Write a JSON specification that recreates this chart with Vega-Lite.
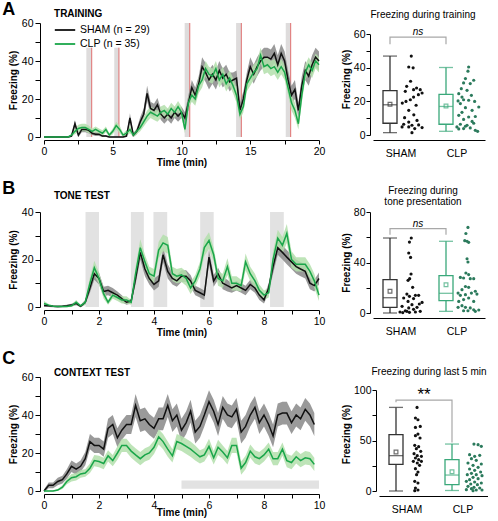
{
"$schema":"https://vega.github.io/schema/vega-lite/v6.json",
"padding":{"left":2,"top":1,"right":0,"bottom":0},
"spacing":12,
"resolve":{"scale":{"color":"independent","stroke":"independent","fill":"independent"}},
"config":{
 "font":"Liberation Sans",
 "view":{"stroke":null},
 "axis":{"grid":false,"domainColor":"#000","tickColor":"#000","labelColor":"#000","titleColor":"#000","labelFontSize":10.5,"titleFontSize":10,"titleFontWeight":"bold","domainWidth":1,"tickWidth":1,"labelOverlap":false},
 "title":{"color":"#000"},
 "legend":{"labelColor":"#000"}
},
"datasets":{
 "tA":[{"t0":3.08,"t1":3.47,"lo":0,"hi":47},{"t0":5.11,"t1":5.45,"lo":0,"hi":47},{"t0":10.23,"t1":10.6,"lo":0,"hi":60},{"t0":13.97,"t1":14.35,"lo":0,"hi":60},{"t0":17.58,"t1":17.94,"lo":0,"hi":60}],
 "tB":[{"t0":1.51,"t1":2.0,"lo":0,"hi":40},{"t0":3.16,"t1":3.63,"lo":0,"hi":40},{"t0":3.98,"t1":4.48,"lo":0,"hi":40},{"t0":5.68,"t1":6.17,"lo":0,"hi":40},{"t0":8.22,"t1":8.72,"lo":0,"hi":40}],
 "tC":[{"t0":5,"t1":10,"lo":1.2,"hi":5.5}],
 "lA":[
{"g":"SHAM","t":0,"m":0,"e":0.3},{"g":"SHAM","t":0.25,"m":0,"e":0.3},{"g":"SHAM","t":0.5,"m":0,"e":0.3},{"g":"SHAM","t":0.75,"m":0,"e":0.3},{"g":"SHAM","t":1,"m":0,"e":0.3},{"g":"SHAM","t":1.25,"m":0,"e":0.3},{"g":"SHAM","t":1.5,"m":0,"e":0.3},{"g":"SHAM","t":1.75,"m":0,"e":0.3},{"g":"SHAM","t":2,"m":0.5,"e":0.5},{"g":"SHAM","t":2.25,"m":7,"e":2},{"g":"SHAM","t":2.5,"m":1,"e":1},{"g":"SHAM","t":2.75,"m":4,"e":1.5},{"g":"SHAM","t":3,"m":4,"e":1.5},{"g":"SHAM","t":3.25,"m":3.5,"e":1.5},{"g":"SHAM","t":3.5,"m":2,"e":1},{"g":"SHAM","t":3.75,"m":1.5,"e":1},{"g":"SHAM","t":4,"m":1.5,"e":1},{"g":"SHAM","t":4.25,"m":0.5,"e":0.5},{"g":"SHAM","t":4.5,"m":0.5,"e":0.5},{"g":"SHAM","t":4.75,"m":0,"e":0.3},{"g":"SHAM","t":5,"m":0,"e":0.3},{"g":"SHAM","t":5.25,"m":0,"e":0.3},{"g":"SHAM","t":5.5,"m":0,"e":0.3},{"g":"SHAM","t":5.75,"m":0,"e":0.3},{"g":"SHAM","t":6,"m":0.5,"e":0.5},{"g":"SHAM","t":6.25,"m":10,"e":2.5},{"g":"SHAM","t":6.5,"m":1,"e":1},{"g":"SHAM","t":6.75,"m":3,"e":1.5},{"g":"SHAM","t":7,"m":8,"e":2.5},{"g":"SHAM","t":7.25,"m":12,"e":3},{"g":"SHAM","t":7.5,"m":23,"e":4},{"g":"SHAM","t":7.75,"m":15,"e":3.5},{"g":"SHAM","t":8,"m":14,"e":3.5},{"g":"SHAM","t":8.25,"m":17,"e":3.5},{"g":"SHAM","t":8.5,"m":12,"e":3},{"g":"SHAM","t":8.75,"m":10,"e":3},{"g":"SHAM","t":9,"m":12,"e":3},{"g":"SHAM","t":9.25,"m":10,"e":3},{"g":"SHAM","t":9.5,"m":13,"e":3},{"g":"SHAM","t":9.75,"m":11,"e":3},{"g":"SHAM","t":10,"m":13,"e":3},{"g":"SHAM","t":10.25,"m":10,"e":3},{"g":"SHAM","t":10.5,"m":18,"e":4},{"g":"SHAM","t":10.75,"m":26,"e":4},{"g":"SHAM","t":11,"m":22,"e":4},{"g":"SHAM","t":11.25,"m":28,"e":4},{"g":"SHAM","t":11.5,"m":37,"e":5},{"g":"SHAM","t":11.75,"m":34,"e":5},{"g":"SHAM","t":12,"m":30,"e":5},{"g":"SHAM","t":12.25,"m":33,"e":5},{"g":"SHAM","t":12.5,"m":30,"e":5},{"g":"SHAM","t":12.75,"m":35,"e":5},{"g":"SHAM","t":13,"m":31,"e":5},{"g":"SHAM","t":13.25,"m":33,"e":5},{"g":"SHAM","t":13.5,"m":29,"e":5},{"g":"SHAM","t":13.75,"m":30,"e":4},{"g":"SHAM","t":14,"m":31,"e":4},{"g":"SHAM","t":14.25,"m":14,"e":4},{"g":"SHAM","t":14.5,"m":20,"e":4},{"g":"SHAM","t":14.75,"m":30,"e":4},{"g":"SHAM","t":15,"m":37,"e":5},{"g":"SHAM","t":15.25,"m":33,"e":5},{"g":"SHAM","t":15.5,"m":37,"e":5},{"g":"SHAM","t":15.75,"m":40,"e":5},{"g":"SHAM","t":16,"m":42,"e":5},{"g":"SHAM","t":16.25,"m":42,"e":5},{"g":"SHAM","t":16.5,"m":41,"e":5},{"g":"SHAM","t":16.75,"m":44,"e":5},{"g":"SHAM","t":17,"m":38,"e":5},{"g":"SHAM","t":17.25,"m":44,"e":5},{"g":"SHAM","t":17.5,"m":40,"e":5},{"g":"SHAM","t":17.75,"m":30,"e":5},{"g":"SHAM","t":18,"m":22,"e":5},{"g":"SHAM","t":18.25,"m":25,"e":5},{"g":"SHAM","t":18.5,"m":14,"e":4},{"g":"SHAM","t":18.75,"m":27,"e":5},{"g":"SHAM","t":19,"m":35,"e":5},{"g":"SHAM","t":19.25,"m":32,"e":5},{"g":"SHAM","t":19.5,"m":38,"e":5},{"g":"SHAM","t":19.75,"m":42,"e":5},{"g":"SHAM","t":20,"m":40,"e":5},
{"g":"CLP","t":0,"m":0,"e":0.3},{"g":"CLP","t":0.25,"m":0,"e":0.3},{"g":"CLP","t":0.5,"m":0,"e":0.3},{"g":"CLP","t":0.75,"m":0,"e":0.3},{"g":"CLP","t":1,"m":0,"e":0.3},{"g":"CLP","t":1.25,"m":0,"e":0.3},{"g":"CLP","t":1.5,"m":0,"e":0.3},{"g":"CLP","t":1.75,"m":0,"e":0.3},{"g":"CLP","t":2,"m":1,"e":0.8},{"g":"CLP","t":2.25,"m":3,"e":1.5},{"g":"CLP","t":2.5,"m":4.5,"e":2},{"g":"CLP","t":2.75,"m":5,"e":2},{"g":"CLP","t":3,"m":5,"e":2},{"g":"CLP","t":3.25,"m":4,"e":2},{"g":"CLP","t":3.5,"m":3,"e":1.5},{"g":"CLP","t":3.75,"m":4,"e":1.5},{"g":"CLP","t":4,"m":3,"e":1.5},{"g":"CLP","t":4.25,"m":2,"e":1.5},{"g":"CLP","t":4.5,"m":4,"e":1.5},{"g":"CLP","t":4.75,"m":1,"e":1},{"g":"CLP","t":5,"m":3,"e":1.5},{"g":"CLP","t":5.25,"m":6,"e":2},{"g":"CLP","t":5.5,"m":4,"e":2},{"g":"CLP","t":5.75,"m":1,"e":1},{"g":"CLP","t":6,"m":2,"e":1.5},{"g":"CLP","t":6.25,"m":4,"e":2},{"g":"CLP","t":6.5,"m":1,"e":1},{"g":"CLP","t":6.75,"m":3,"e":1.5},{"g":"CLP","t":7,"m":5,"e":2},{"g":"CLP","t":7.25,"m":8,"e":2.5},{"g":"CLP","t":7.5,"m":11,"e":3},{"g":"CLP","t":7.75,"m":13,"e":3},{"g":"CLP","t":8,"m":12,"e":3},{"g":"CLP","t":8.25,"m":11,"e":3},{"g":"CLP","t":8.5,"m":13,"e":3},{"g":"CLP","t":8.75,"m":14,"e":3},{"g":"CLP","t":9,"m":12,"e":3},{"g":"CLP","t":9.25,"m":15,"e":3},{"g":"CLP","t":9.5,"m":13,"e":3},{"g":"CLP","t":9.75,"m":16,"e":3},{"g":"CLP","t":10,"m":13,"e":3},{"g":"CLP","t":10.25,"m":4,"e":2},{"g":"CLP","t":10.5,"m":18,"e":3},{"g":"CLP","t":10.75,"m":22,"e":3.5},{"g":"CLP","t":11,"m":20,"e":3.5},{"g":"CLP","t":11.25,"m":27,"e":4},{"g":"CLP","t":11.5,"m":30,"e":4},{"g":"CLP","t":11.75,"m":36,"e":4},{"g":"CLP","t":12,"m":33,"e":4},{"g":"CLP","t":12.25,"m":32,"e":4},{"g":"CLP","t":12.5,"m":36,"e":4},{"g":"CLP","t":12.75,"m":30,"e":4},{"g":"CLP","t":13,"m":33,"e":4},{"g":"CLP","t":13.25,"m":28,"e":4},{"g":"CLP","t":13.5,"m":31,"e":4},{"g":"CLP","t":13.75,"m":27,"e":4},{"g":"CLP","t":14,"m":22,"e":4},{"g":"CLP","t":14.25,"m":12,"e":3},{"g":"CLP","t":14.5,"m":16,"e":3},{"g":"CLP","t":14.75,"m":28,"e":4},{"g":"CLP","t":15,"m":31,"e":4},{"g":"CLP","t":15.25,"m":34,"e":4},{"g":"CLP","t":15.5,"m":36,"e":4},{"g":"CLP","t":15.75,"m":43,"e":4},{"g":"CLP","t":16,"m":37,"e":4},{"g":"CLP","t":16.25,"m":38,"e":4},{"g":"CLP","t":16.5,"m":36,"e":4},{"g":"CLP","t":16.75,"m":37,"e":4},{"g":"CLP","t":17,"m":34,"e":4},{"g":"CLP","t":17.25,"m":37,"e":4},{"g":"CLP","t":17.5,"m":34,"e":4},{"g":"CLP","t":17.75,"m":26,"e":4},{"g":"CLP","t":18,"m":18,"e":4},{"g":"CLP","t":18.25,"m":14,"e":4},{"g":"CLP","t":18.5,"m":7,"e":3},{"g":"CLP","t":18.75,"m":22,"e":4},{"g":"CLP","t":19,"m":34,"e":4},{"g":"CLP","t":19.25,"m":38,"e":4},{"g":"CLP","t":19.5,"m":35,"e":4},{"g":"CLP","t":19.75,"m":40,"e":4},{"g":"CLP","t":20,"m":38,"e":4}
 ],
 "lB":[
{"g":"SHAM","t":0,"m":0.6,"e":0.5},{"g":"SHAM","t":0.17,"m":0.5,"e":0.5},{"g":"SHAM","t":0.33,"m":0.3,"e":0.4},{"g":"SHAM","t":0.5,"m":0.2,"e":0.4},{"g":"SHAM","t":0.67,"m":0.3,"e":0.4},{"g":"SHAM","t":0.83,"m":0.5,"e":0.5},{"g":"SHAM","t":1,"m":0.8,"e":0.6},{"g":"SHAM","t":1.17,"m":1.5,"e":0.8},{"g":"SHAM","t":1.33,"m":0.3,"e":0.4},{"g":"SHAM","t":1.5,"m":2,"e":1},{"g":"SHAM","t":1.67,"m":8,"e":2},{"g":"SHAM","t":1.83,"m":14,"e":2.5},{"g":"SHAM","t":2,"m":12,"e":2.5},{"g":"SHAM","t":2.17,"m":6.5,"e":2},{"g":"SHAM","t":2.33,"m":7,"e":2},{"g":"SHAM","t":2.5,"m":6,"e":2},{"g":"SHAM","t":2.67,"m":5,"e":1.5},{"g":"SHAM","t":2.83,"m":3.5,"e":1.5},{"g":"SHAM","t":3,"m":2,"e":1},{"g":"SHAM","t":3.17,"m":2.5,"e":1},{"g":"SHAM","t":3.33,"m":12,"e":2.5},{"g":"SHAM","t":3.5,"m":23,"e":3},{"g":"SHAM","t":3.67,"m":16,"e":3},{"g":"SHAM","t":3.83,"m":12,"e":2.5},{"g":"SHAM","t":4,"m":9.5,"e":2.5},{"g":"SHAM","t":4.17,"m":11,"e":2.5},{"g":"SHAM","t":4.33,"m":22,"e":3},{"g":"SHAM","t":4.5,"m":15,"e":3},{"g":"SHAM","t":4.67,"m":12,"e":2.5},{"g":"SHAM","t":4.83,"m":11,"e":2.5},{"g":"SHAM","t":5,"m":13,"e":2.5},{"g":"SHAM","t":5.17,"m":13,"e":2.5},{"g":"SHAM","t":5.33,"m":11,"e":2.5},{"g":"SHAM","t":5.5,"m":7,"e":2},{"g":"SHAM","t":5.67,"m":6,"e":2},{"g":"SHAM","t":5.83,"m":5,"e":2},{"g":"SHAM","t":6,"m":21,"e":3},{"g":"SHAM","t":6.17,"m":11,"e":2.5},{"g":"SHAM","t":6.33,"m":14,"e":2.5},{"g":"SHAM","t":6.5,"m":10,"e":2.5},{"g":"SHAM","t":6.67,"m":9,"e":2.5},{"g":"SHAM","t":6.83,"m":8,"e":2},{"g":"SHAM","t":7,"m":9,"e":2},{"g":"SHAM","t":7.17,"m":8,"e":2},{"g":"SHAM","t":7.33,"m":7,"e":2},{"g":"SHAM","t":7.5,"m":9.5,"e":2},{"g":"SHAM","t":7.67,"m":8,"e":2},{"g":"SHAM","t":7.83,"m":5,"e":2},{"g":"SHAM","t":8,"m":3,"e":1.5},{"g":"SHAM","t":8.17,"m":8,"e":2},{"g":"SHAM","t":8.33,"m":17,"e":3},{"g":"SHAM","t":8.5,"m":25,"e":3},{"g":"SHAM","t":8.67,"m":23,"e":3},{"g":"SHAM","t":8.83,"m":21,"e":3},{"g":"SHAM","t":9,"m":19,"e":3},{"g":"SHAM","t":9.17,"m":17,"e":3},{"g":"SHAM","t":9.33,"m":16,"e":3},{"g":"SHAM","t":9.5,"m":15,"e":3},{"g":"SHAM","t":9.67,"m":10,"e":2.5},{"g":"SHAM","t":9.83,"m":9,"e":2.5},{"g":"SHAM","t":10,"m":12,"e":2.5},
{"g":"CLP","t":0,"m":1.5,"e":1},{"g":"CLP","t":0.17,"m":0.8,"e":0.5},{"g":"CLP","t":0.33,"m":0.3,"e":0.3},{"g":"CLP","t":0.5,"m":0.2,"e":0.3},{"g":"CLP","t":0.67,"m":0.2,"e":0.3},{"g":"CLP","t":0.83,"m":0.2,"e":0.3},{"g":"CLP","t":1,"m":0.5,"e":0.5},{"g":"CLP","t":1.17,"m":2,"e":1},{"g":"CLP","t":1.33,"m":0.5,"e":0.5},{"g":"CLP","t":1.5,"m":2,"e":1},{"g":"CLP","t":1.67,"m":10,"e":2.5},{"g":"CLP","t":1.83,"m":16.5,"e":3},{"g":"CLP","t":2,"m":12,"e":2.5},{"g":"CLP","t":2.17,"m":5.5,"e":2},{"g":"CLP","t":2.33,"m":2,"e":1},{"g":"CLP","t":2.5,"m":5,"e":1.5},{"g":"CLP","t":2.67,"m":4,"e":1.5},{"g":"CLP","t":2.83,"m":3,"e":1.5},{"g":"CLP","t":3,"m":3,"e":1.5},{"g":"CLP","t":3.17,"m":2,"e":1},{"g":"CLP","t":3.33,"m":14,"e":3},{"g":"CLP","t":3.5,"m":25,"e":3.5},{"g":"CLP","t":3.67,"m":19,"e":3},{"g":"CLP","t":3.83,"m":14,"e":3},{"g":"CLP","t":4,"m":13,"e":3},{"g":"CLP","t":4.17,"m":24,"e":3.5},{"g":"CLP","t":4.33,"m":27,"e":3.5},{"g":"CLP","t":4.5,"m":26,"e":3.5},{"g":"CLP","t":4.67,"m":14,"e":3},{"g":"CLP","t":4.83,"m":13,"e":3},{"g":"CLP","t":5,"m":13.5,"e":3},{"g":"CLP","t":5.17,"m":12,"e":3},{"g":"CLP","t":5.33,"m":8,"e":2.5},{"g":"CLP","t":5.5,"m":11,"e":2.5},{"g":"CLP","t":5.67,"m":16,"e":3},{"g":"CLP","t":5.83,"m":25,"e":3.5},{"g":"CLP","t":6,"m":28,"e":3.5},{"g":"CLP","t":6.17,"m":22,"e":3},{"g":"CLP","t":6.33,"m":12,"e":3},{"g":"CLP","t":6.5,"m":11,"e":3},{"g":"CLP","t":6.67,"m":17,"e":3.5},{"g":"CLP","t":6.83,"m":10,"e":3},{"g":"CLP","t":7,"m":10,"e":3},{"g":"CLP","t":7.17,"m":9,"e":2.5},{"g":"CLP","t":7.33,"m":19,"e":3.5},{"g":"CLP","t":7.5,"m":14,"e":3},{"g":"CLP","t":7.67,"m":11,"e":3},{"g":"CLP","t":7.83,"m":7,"e":2.5},{"g":"CLP","t":8,"m":5,"e":2},{"g":"CLP","t":8.17,"m":6,"e":2},{"g":"CLP","t":8.33,"m":20,"e":3.5},{"g":"CLP","t":8.5,"m":29,"e":3.5},{"g":"CLP","t":8.67,"m":26,"e":3.5},{"g":"CLP","t":8.83,"m":31,"e":4},{"g":"CLP","t":9,"m":20,"e":3.5},{"g":"CLP","t":9.17,"m":18,"e":3},{"g":"CLP","t":9.33,"m":18,"e":3},{"g":"CLP","t":9.5,"m":18,"e":3},{"g":"CLP","t":9.67,"m":15,"e":3},{"g":"CLP","t":9.83,"m":11,"e":3},{"g":"CLP","t":10,"m":5,"e":2.5}
 ],
 "lC":[
{"g":"SHAM","t":0,"m":0,"e":0.8},{"g":"SHAM","t":0.17,"m":3,"e":1.5},{"g":"SHAM","t":0.33,"m":3,"e":1.5},{"g":"SHAM","t":0.5,"m":5,"e":2},{"g":"SHAM","t":0.67,"m":6,"e":2},{"g":"SHAM","t":0.83,"m":9,"e":2.5},{"g":"SHAM","t":1,"m":13,"e":3},{"g":"SHAM","t":1.17,"m":11.5,"e":3},{"g":"SHAM","t":1.33,"m":13,"e":3},{"g":"SHAM","t":1.5,"m":17,"e":3.5},{"g":"SHAM","t":1.67,"m":26,"e":4},{"g":"SHAM","t":1.83,"m":24,"e":4},{"g":"SHAM","t":2,"m":24,"e":4},{"g":"SHAM","t":2.17,"m":22,"e":4},{"g":"SHAM","t":2.33,"m":33,"e":5},{"g":"SHAM","t":2.5,"m":35,"e":5},{"g":"SHAM","t":2.67,"m":28,"e":5},{"g":"SHAM","t":2.83,"m":32,"e":5},{"g":"SHAM","t":3,"m":35,"e":5},{"g":"SHAM","t":3.17,"m":35,"e":5},{"g":"SHAM","t":3.33,"m":45,"e":6},{"g":"SHAM","t":3.5,"m":37,"e":6},{"g":"SHAM","t":3.67,"m":38,"e":6},{"g":"SHAM","t":3.83,"m":35,"e":5.5},{"g":"SHAM","t":4,"m":33,"e":5.5},{"g":"SHAM","t":4.17,"m":38,"e":6},{"g":"SHAM","t":4.33,"m":38,"e":6},{"g":"SHAM","t":4.5,"m":45,"e":6},{"g":"SHAM","t":4.67,"m":37,"e":6},{"g":"SHAM","t":4.83,"m":40,"e":6},{"g":"SHAM","t":5,"m":32,"e":6},{"g":"SHAM","t":5.17,"m":36,"e":6},{"g":"SHAM","t":5.33,"m":42,"e":6},{"g":"SHAM","t":5.5,"m":31,"e":6},{"g":"SHAM","t":5.67,"m":34,"e":6},{"g":"SHAM","t":5.83,"m":40,"e":6},{"g":"SHAM","t":6,"m":47,"e":6},{"g":"SHAM","t":6.17,"m":42,"e":6},{"g":"SHAM","t":6.33,"m":35,"e":6},{"g":"SHAM","t":6.5,"m":44,"e":6},{"g":"SHAM","t":6.67,"m":40,"e":6},{"g":"SHAM","t":6.83,"m":39,"e":6},{"g":"SHAM","t":7,"m":43,"e":6},{"g":"SHAM","t":7.17,"m":31,"e":6},{"g":"SHAM","t":7.33,"m":34,"e":6},{"g":"SHAM","t":7.5,"m":40,"e":6},{"g":"SHAM","t":7.67,"m":44,"e":6},{"g":"SHAM","t":7.83,"m":36,"e":6},{"g":"SHAM","t":8,"m":40,"e":6},{"g":"SHAM","t":8.17,"m":35,"e":6},{"g":"SHAM","t":8.33,"m":29,"e":6},{"g":"SHAM","t":8.5,"m":40,"e":6},{"g":"SHAM","t":8.67,"m":41,"e":6},{"g":"SHAM","t":8.83,"m":41,"e":6},{"g":"SHAM","t":9,"m":36,"e":6},{"g":"SHAM","t":9.17,"m":40,"e":6},{"g":"SHAM","t":9.33,"m":38,"e":6},{"g":"SHAM","t":9.5,"m":43,"e":6},{"g":"SHAM","t":9.67,"m":40,"e":6},{"g":"SHAM","t":9.83,"m":35,"e":6},
{"g":"CLP","t":0,"m":0,"e":0.3},{"g":"CLP","t":0.17,"m":0,"e":0.3},{"g":"CLP","t":0.33,"m":0,"e":0.3},{"g":"CLP","t":0.5,"m":0.5,"e":0.5},{"g":"CLP","t":0.67,"m":2,"e":1},{"g":"CLP","t":0.83,"m":5,"e":1.5},{"g":"CLP","t":1,"m":7,"e":2},{"g":"CLP","t":1.17,"m":7.5,"e":2},{"g":"CLP","t":1.33,"m":9,"e":2},{"g":"CLP","t":1.5,"m":9.5,"e":2},{"g":"CLP","t":1.67,"m":12,"e":2.5},{"g":"CLP","t":1.83,"m":16,"e":3},{"g":"CLP","t":2,"m":15.5,"e":3},{"g":"CLP","t":2.17,"m":14.5,"e":3},{"g":"CLP","t":2.33,"m":18.5,"e":3},{"g":"CLP","t":2.5,"m":16,"e":3},{"g":"CLP","t":2.67,"m":20,"e":3.5},{"g":"CLP","t":2.83,"m":24,"e":3.5},{"g":"CLP","t":3,"m":24,"e":3.5},{"g":"CLP","t":3.17,"m":21,"e":3.5},{"g":"CLP","t":3.33,"m":19,"e":3.5},{"g":"CLP","t":3.5,"m":17,"e":3.5},{"g":"CLP","t":3.67,"m":19,"e":3.5},{"g":"CLP","t":3.83,"m":20,"e":3.5},{"g":"CLP","t":4,"m":23,"e":3.5},{"g":"CLP","t":4.17,"m":28.5,"e":4},{"g":"CLP","t":4.33,"m":26,"e":4},{"g":"CLP","t":4.5,"m":22,"e":4},{"g":"CLP","t":4.67,"m":18.5,"e":3.5},{"g":"CLP","t":4.83,"m":26,"e":4},{"g":"CLP","t":5,"m":25,"e":4},{"g":"CLP","t":5.17,"m":23.5,"e":4},{"g":"CLP","t":5.33,"m":22,"e":4},{"g":"CLP","t":5.5,"m":20,"e":4},{"g":"CLP","t":5.67,"m":18,"e":3.5},{"g":"CLP","t":5.83,"m":19,"e":3.5},{"g":"CLP","t":6,"m":23.5,"e":4},{"g":"CLP","t":6.17,"m":17.5,"e":3.5},{"g":"CLP","t":6.33,"m":23,"e":4},{"g":"CLP","t":6.5,"m":20.5,"e":3.5},{"g":"CLP","t":6.67,"m":17.5,"e":3.5},{"g":"CLP","t":6.83,"m":24,"e":4},{"g":"CLP","t":7,"m":24,"e":4},{"g":"CLP","t":7.17,"m":12,"e":3.5},{"g":"CLP","t":7.33,"m":15,"e":3.5},{"g":"CLP","t":7.5,"m":21,"e":3.5},{"g":"CLP","t":7.67,"m":18,"e":3.5},{"g":"CLP","t":7.83,"m":17,"e":3.5},{"g":"CLP","t":8,"m":19,"e":3.5},{"g":"CLP","t":8.17,"m":22,"e":3.5},{"g":"CLP","t":8.33,"m":17,"e":3.5},{"g":"CLP","t":8.5,"m":17,"e":3.5},{"g":"CLP","t":8.67,"m":22,"e":3.5},{"g":"CLP","t":8.83,"m":16,"e":3.5},{"g":"CLP","t":9,"m":15,"e":3.5},{"g":"CLP","t":9.17,"m":18,"e":3.5},{"g":"CLP","t":9.33,"m":16,"e":3.5},{"g":"CLP","t":9.5,"m":17.5,"e":3.5},{"g":"CLP","t":9.67,"m":17,"e":3.5},{"g":"CLP","t":9.83,"m":14,"e":3.5}
 ],
 "bA":[{"g":"SHAM","mn":1.4,"q1":7,"md":18,"q3":26.4,"mx":47,"mean":18.3},{"g":"CLP","mn":2.2,"q1":6.4,"md":17,"q3":24.2,"mx":40.2,"mean":17.3}],
 "bB":[{"g":"SHAM","mn":0,"q1":4.5,"md":12.1,"q3":26.4,"mx":59.4,"mean":17.2},{"g":"CLP","mn":1.3,"q1":9.8,"md":15.6,"q3":29.6,"mx":56.8,"mean":22.4}],
 "bC":[{"g":"SHAM","mn":0,"q1":26.4,"md":35,"q3":55.8,"mx":82.8,"mean":38.6},{"g":"CLP","mn":0.5,"q1":6.3,"md":15.8,"q3":31,"mx":46.5,"mean":19}],
 "kA":[{"g":"SHAM","v":54,"o":1},{"g":"SHAM","v":58.3,"o":2},{"g":"CLP","v":58.3,"o":3},{"g":"CLP","v":54,"o":4}],
 "kB":[{"g":"SHAM","v":62,"o":1},{"g":"SHAM","v":66.8,"o":2},{"g":"CLP","v":66.8,"o":3},{"g":"CLP","v":62,"o":4}],
 "kC":[{"g":"SHAM","v":87.8,"o":1},{"g":"SHAM","v":90,"o":2},{"g":"CLP","v":90,"o":3},{"g":"CLP","v":48,"o":4}],
 "dA":[
{"g":"SHAM","v":47,"j":0.49},{"g":"SHAM","v":40.5,"j":0.38},{"g":"SHAM","v":40,"j":0.57},{"g":"SHAM","v":32,"j":0.46},{"g":"SHAM","v":29,"j":0.29},{"g":"SHAM","v":28,"j":0.72},{"g":"SHAM","v":27,"j":0.88},{"g":"SHAM","v":27,"j":0.59},{"g":"SHAM","v":26,"j":0.23},{"g":"SHAM","v":25,"j":0.96},{"g":"SHAM","v":24,"j":0.8},{"g":"SHAM","v":22.6,"j":0.59},{"g":"SHAM","v":21,"j":0.45},{"g":"SHAM","v":20,"j":0.26},{"g":"SHAM","v":19,"j":0.1},{"g":"SHAM","v":17.7,"j":0.7},{"g":"SHAM","v":14.7,"j":0.38},{"g":"SHAM","v":12,"j":0.6},{"g":"SHAM","v":10.3,"j":0.2},{"g":"SHAM","v":8.7,"j":0.74},{"g":"SHAM","v":7.7,"j":0.38},{"g":"SHAM","v":6.4,"j":0.16},{"g":"SHAM","v":5.8,"j":0.52},{"g":"SHAM","v":6,"j":0.81},{"g":"SHAM","v":4.8,"j":0.09},{"g":"SHAM","v":4.8,"j":0.38},{"g":"SHAM","v":4.4,"j":0.96},{"g":"SHAM","v":3.8,"j":0.64},{"g":"SHAM","v":1.4,"j":0.52},
{"g":"CLP","v":40.5,"j":0.55},{"g":"CLP","v":38,"j":0.52},{"g":"CLP","v":33.6,"j":0.41},{"g":"CLP","v":32.6,"j":0.77},{"g":"CLP","v":31,"j":0.33},{"g":"CLP","v":30.6,"j":0.62},{"g":"CLP","v":27.6,"j":0.23},{"g":"CLP","v":26.6,"j":0.48},{"g":"CLP","v":24.6,"j":0.12},{"g":"CLP","v":23.6,"j":0.67},{"g":"CLP","v":22.6,"j":0.26},{"g":"CLP","v":21,"j":0.33},{"g":"CLP","v":20.3,"j":0.09},{"g":"CLP","v":20.7,"j":0.55},{"g":"CLP","v":20,"j":0.81},{"g":"CLP","v":18.7,"j":0.19},{"g":"CLP","v":16.7,"j":0.99},{"g":"CLP","v":16.3,"j":0.41},{"g":"CLP","v":14.7,"j":0.7},{"g":"CLP","v":13.5,"j":0.26},{"g":"CLP","v":11.7,"j":0.12},{"g":"CLP","v":10.7,"j":0.55},{"g":"CLP","v":11,"j":0.84},{"g":"CLP","v":9.3,"j":0.33},{"g":"CLP","v":8.1,"j":0.7},{"g":"CLP","v":7,"j":0.77},{"g":"CLP","v":6.4,"j":0.19},{"g":"CLP","v":5.8,"j":0.48},{"g":"CLP","v":5.2,"j":0.41},{"g":"CLP","v":4.8,"j":0.04},{"g":"CLP","v":4.2,"j":0.62},{"g":"CLP","v":3.8,"j":0.33},{"g":"CLP","v":3.6,"j":0.12},{"g":"CLP","v":2.8,"j":0.84},{"g":"CLP","v":2.2,"j":0.94}
 ],
 "dB":[
{"g":"SHAM","v":59.4,"j":0.49},{"g":"SHAM","v":56.2,"j":0.41},{"g":"SHAM","v":47.5,"j":0.38},{"g":"SHAM","v":44,"j":0.46},{"g":"SHAM","v":30.9,"j":0.48},{"g":"SHAM","v":27.2,"j":0.42},{"g":"SHAM","v":25.9,"j":0.35},{"g":"SHAM","v":20.3,"j":0.55},{"g":"SHAM","v":15,"j":0.3},{"g":"SHAM","v":14,"j":0.67},{"g":"SHAM","v":13.2,"j":0.41},{"g":"SHAM","v":14,"j":0.81},{"g":"SHAM","v":11.9,"j":0.16},{"g":"SHAM","v":11.4,"j":0.59},{"g":"SHAM","v":9.2,"j":0.35},{"g":"SHAM","v":8.4,"j":0.96},{"g":"SHAM","v":6.6,"j":0.52},{"g":"SHAM","v":7.1,"j":0.84},{"g":"SHAM","v":5.3,"j":0.09},{"g":"SHAM","v":4.5,"j":0.74},{"g":"SHAM","v":4,"j":0.38},{"g":"SHAM","v":2.9,"j":0.59},{"g":"SHAM","v":1.8,"j":0.23},{"g":"SHAM","v":0.8,"j":0},{"g":"SHAM","v":0.3,"j":0.12},{"g":"SHAM","v":0.5,"j":0.41},{"g":"SHAM","v":0.8,"j":0.67},{"g":"SHAM","v":1.3,"j":0.88},{"g":"SHAM","v":1.3,"j":0.3},
{"g":"CLP","v":67.8,"j":0.52},{"g":"CLP","v":63,"j":0.43},{"g":"CLP","v":57.3,"j":0.38},{"g":"CLP","v":56.8,"j":0.48},{"g":"CLP","v":56,"j":0.55},{"g":"CLP","v":43,"j":0.48},{"g":"CLP","v":40.4,"j":0.52},{"g":"CLP","v":31.7,"j":0.43},{"g":"CLP","v":30.4,"j":0.55},{"g":"CLP","v":28.2,"j":0.19},{"g":"CLP","v":27.7,"j":0.33},{"g":"CLP","v":27.2,"j":0.62},{"g":"CLP","v":27.2,"j":0.77},{"g":"CLP","v":21,"j":0.41},{"g":"CLP","v":20.3,"j":0.55},{"g":"CLP","v":18.5,"j":0.26},{"g":"CLP","v":17.2,"j":0.84},{"g":"CLP","v":15.8,"j":0.09},{"g":"CLP","v":15.8,"j":0.67},{"g":"CLP","v":14.5,"j":0.41},{"g":"CLP","v":14,"j":0.19},{"g":"CLP","v":15,"j":0.91},{"g":"CLP","v":11.9,"j":0.55},{"g":"CLP","v":10.6,"j":0.33},{"g":"CLP","v":9.2,"j":0.12},{"g":"CLP","v":9.2,"j":0.77},{"g":"CLP","v":5.8,"j":0.26},{"g":"CLP","v":4.5,"j":0.09},{"g":"CLP","v":4.5,"j":0.41},{"g":"CLP","v":4,"j":0.62},{"g":"CLP","v":2.6,"j":0.77},{"g":"CLP","v":1.8,"j":0.33},{"g":"CLP","v":1.8,"j":0.52},{"g":"CLP","v":1.3,"j":0.84},{"g":"CLP","v":2.4,"j":0.99}
 ],
 "dC":[
{"g":"SHAM","v":82.8,"j":0.48},{"g":"SHAM","v":72.3,"j":0.41},{"g":"SHAM","v":70.6,"j":0.52},{"g":"SHAM","v":64,"j":0.62},{"g":"SHAM","v":63,"j":0.41},{"g":"SHAM","v":56.4,"j":0.52},{"g":"SHAM","v":54.8,"j":0.41},{"g":"SHAM","v":52.5,"j":0.61},{"g":"SHAM","v":45.2,"j":0.38},{"g":"SHAM","v":43.9,"j":0.55},{"g":"SHAM","v":41.9,"j":0.45},{"g":"SHAM","v":39.3,"j":0.64},{"g":"SHAM","v":37,"j":0.35},{"g":"SHAM","v":35,"j":0.49},{"g":"SHAM","v":34.3,"j":0.67},{"g":"SHAM","v":32.7,"j":0.41},{"g":"SHAM","v":31,"j":0.55},{"g":"SHAM","v":29.4,"j":0.32},{"g":"SHAM","v":29.4,"j":0.67},{"g":"SHAM","v":27.7,"j":0.49},{"g":"SHAM","v":25.4,"j":0.59},{"g":"SHAM","v":22.1,"j":0.41},{"g":"SHAM","v":18.8,"j":0.52},{"g":"SHAM","v":16.2,"j":0.46},{"g":"SHAM","v":9.6,"j":0.38},{"g":"SHAM","v":7.9,"j":0.52},{"g":"SHAM","v":3,"j":0.41},{"g":"SHAM","v":1,"j":0.52},{"g":"SHAM","v":0.3,"j":0.38},
{"g":"CLP","v":46.5,"j":0.52},{"g":"CLP","v":45.9,"j":0.7},{"g":"CLP","v":44.2,"j":0.84},{"g":"CLP","v":36,"j":0.33},{"g":"CLP","v":34.3,"j":0.55},{"g":"CLP","v":35.3,"j":0.77},{"g":"CLP","v":32,"j":0.41},{"g":"CLP","v":30.4,"j":0.62},{"g":"CLP","v":27.7,"j":0.26},{"g":"CLP","v":26.7,"j":0.84},{"g":"CLP","v":25.4,"j":0.48},{"g":"CLP","v":23.4,"j":0.7},{"g":"CLP","v":21.8,"j":0.33},{"g":"CLP","v":20.5,"j":0.55},{"g":"CLP","v":18.8,"j":0.81},{"g":"CLP","v":17.5,"j":0.41},{"g":"CLP","v":16.2,"j":0.23},{"g":"CLP","v":16.2,"j":0.62},{"g":"CLP","v":15.2,"j":0.87},{"g":"CLP","v":13.5,"j":0.48},{"g":"CLP","v":12.2,"j":0.7},{"g":"CLP","v":11.2,"j":0.33},{"g":"CLP","v":9.6,"j":0.19},{"g":"CLP","v":8.9,"j":0.55},{"g":"CLP","v":7.9,"j":0.84},{"g":"CLP","v":6.9,"j":0.38},{"g":"CLP","v":6.3,"j":0.67},{"g":"CLP","v":4.6,"j":0.26},{"g":"CLP","v":3.6,"j":0.52},{"g":"CLP","v":3,"j":0.77},{"g":"CLP","v":2.3,"j":0.41},{"g":"CLP","v":1.3,"j":0.19},{"g":"CLP","v":1,"j":0.62},{"g":"CLP","v":1,"j":0.87},{"g":"CLP","v":0.3,"j":0.48}
 ]
},
"vconcat":[
{"title":{"text":"A","anchor":"start","fontSize":18,"fontWeight":"bold","offset":-10,"dx":-6},
 "spacing":16,
 "resolve":{"scale":{"color":"independent","stroke":"independent","fill":"independent"}},
 "hconcat":[
  {"width":275,"height":114,
   "layer":[
    {"data":{"name":"tA"},"mark":{"type":"rect","color":"#dedcdc"},
     "encoding":{"x":{"field":"t0","type":"quantitative","title":"Time (min)","scale":{"domain":[0,20],"nice":false},"axis":{"title":"Time (min)","values":[0,2.5,5,7.5,10,12.5,15,17.5,20],"tickCount":30,"format":"d","labelExpr":"datum.value % 5 === 0 ? datum.label : ''","offset":3,"tickSize":4,"labelPadding":2,"titlePadding":1,"labelFlush":false,"labelOverlap":false}},"x2":{"field":"t1"},
      "y":{"field":"lo","type":"quantitative","title":"Freezing (%)","scale":{"domain":[0,60],"nice":false},"axis":{"title":"Freezing (%)","values":[0,10,20,30,40,50,60],"tickCount":30,"format":"d","labelExpr":"datum.value % 20 === 0 ? datum.label : ''","offset":4,"tickSize":5,"labelPadding":2,"titlePadding":3,"labelOverlap":false}},"y2":{"field":"hi"}}},
    {"data":{"name":"tA"},"mark":{"type":"rule","color":"#e07070","strokeWidth":1},"encoding":{"x":{"field":"t1","type":"quantitative","title":"Time (min)"},"y":{"field":"lo","type":"quantitative","title":"Freezing (%)"},"y2":{"field":"hi"}}},
    {"data":{"name":"lA"},"mark":{"type":"errorband","opacity":0.85},"encoding":{"x":{"field":"t","type":"quantitative","title":"Time (min)"},"y":{"field":"m","type":"quantitative","title":"Freezing (%)"},"yError":{"field":"e"},"fill":{"field":"g","type":"nominal","scale":{"domain":["CLP","SHAM"],"range":["#b3dfac","#888888"]},"legend":null}}},
    {"data":{"name":"lA"},"mark":{"type":"line","strokeWidth":1.5},"encoding":{"x":{"field":"t","type":"quantitative","title":"Time (min)"},"y":{"field":"m","type":"quantitative","title":"Freezing (%)"},"color":{"field":"g","type":"nominal","scale":{"domain":["SHAM","CLP"],"range":["#111111","#1aa64a"]},"legend":{"orient":"none","legendX":14,"legendY":0,"title":null,"symbolType":"M-1.7,0H1.7","symbolSize":144,"symbolStrokeWidth":1.8,"labelFontSize":10.5,"labelExpr":"datum.label == 'SHAM' ? 'SHAM (n = 29)' : 'CLP (n = 35)'","rowPadding":1,"labelOffset":8}}}},
    {"data":{"values":[{"lab":"TRAINING"}]},"mark":{"type":"text","align":"left","baseline":"middle","fontWeight":"bold","fontSize":10},"encoding":{"x":{"datum":0.73,"type":"quantitative"},"y":{"datum":64.7,"type":"quantitative"},"text":{"field":"lab"}}}
   ]},
  {"width":106,"height":112,
   "title":{"text":"Freezing during training","fontSize":10,"fontWeight":"normal","offset":3},
   "layer":[
    {"data":{"name":"kA"},"mark":{"type":"line","color":"#a8a8a8","strokeWidth":1.2,"xOffset":-11},
     "encoding":{"x":{"field":"g","type":"nominal","sort":null,"scale":{"type":"band","domain":["SHAM","CLP"],"range":[3,115],"paddingInner":0,"paddingOuter":0},"axis":{"title":null,"ticks":false,"labelAngle":0,"offset":5,"labelPadding":8}},
      "y":{"field":"v","type":"quantitative","scale":{"domain":[0,66.7],"nice":false},"axis":{"title":"Freezing (%)","values":[0,10,20,30,40,50,60],"tickCount":30,"format":"d","labelExpr":"datum.value % 20 === 0 ? datum.label : ''","tickSize":4,"labelPadding":1,"titlePadding":2,"labelOverlap":false,"domainDash":[100.7,400]}},
      "order":{"field":"o","type":"quantitative"}}},
    {"data":{"values":[{"g":"SHAM","lab":"ns","v":61.3}]},"mark":{"type":"text","fontStyle":"italic","fontSize":10,"dx":17,"baseline":"middle"},"encoding":{"x":{"field":"g","type":"nominal","scale":{"type":"band"}},"y":{"field":"v","type":"quantitative"},"text":{"field":"lab"}}},
    {"data":{"name":"bA"},"mark":{"type":"rule","strokeWidth":1.3,"xOffset":-11},"encoding":{"x":{"field":"g","type":"nominal","scale":{"type":"band"}},"y":{"field":"mn","type":"quantitative"},"y2":{"field":"mx"},"color":{"field":"g","type":"nominal","scale":{"domain":["SHAM","CLP"],"range":["#333333","#3aa87a"]},"legend":null}}},
    {"data":{"name":"bA"},"mark":{"type":"tick","size":14,"thickness":1.3,"xOffset":-11},"encoding":{"x":{"field":"g","type":"nominal","scale":{"type":"band"}},"y":{"field":"mn","type":"quantitative"},"color":{"field":"g","type":"nominal","legend":null}}},
    {"data":{"name":"bA"},"mark":{"type":"tick","size":14,"thickness":1.3,"xOffset":-11},"encoding":{"x":{"field":"g","type":"nominal","scale":{"type":"band"}},"y":{"field":"mx","type":"quantitative"},"color":{"field":"g","type":"nominal","legend":null}}},
    {"data":{"name":"bA"},"mark":{"type":"bar","width":14,"filled":false,"fill":"#ffffff","strokeWidth":1.3,"xOffset":-11},"encoding":{"x":{"field":"g","type":"nominal","scale":{"type":"band"}},"y":{"field":"q1","type":"quantitative"},"y2":{"field":"q3"},"color":{"field":"g","type":"nominal","legend":null}}},
    {"data":{"name":"bA"},"mark":{"type":"tick","size":14,"thickness":1.3,"xOffset":-11},"encoding":{"x":{"field":"g","type":"nominal","scale":{"type":"band"}},"y":{"field":"md","type":"quantitative"},"color":{"field":"g","type":"nominal","legend":null}}},
    {"data":{"name":"bA"},"mark":{"type":"point","shape":"square","size":14,"filled":false,"strokeWidth":1.2,"xOffset":-11},"encoding":{"x":{"field":"g","type":"nominal","scale":{"type":"band"}},"y":{"field":"mean","type":"quantitative"},"color":{"field":"g","type":"nominal","legend":null}}},
    {"data":{"name":"dA"},"mark":{"type":"circle","size":10,"opacity":1},"encoding":{"x":{"field":"g","type":"nominal","scale":{"type":"band"}},"xOffset":{"field":"j","type":"quantitative","scale":{"domain":[0,1],"range":[27,50]}},"y":{"field":"v","type":"quantitative"},"fill":{"field":"g","type":"nominal","scale":{"domain":["SHAM","CLP"],"range":["#111111","#2b7a5c"]},"legend":null}}}
   ]}
 ]},
{"title":{"text":"B","anchor":"start","fontSize":18,"fontWeight":"bold","offset":-12,"dx":-6},
 "spacing":16,
 "resolve":{"scale":{"color":"independent","stroke":"independent","fill":"independent"}},
 "hconcat":[
  {"width":275,"height":95,
   "layer":[
    {"data":{"name":"tB"},"mark":{"type":"rect","color":"#e2e2e2"},
     "encoding":{"x":{"field":"t0","type":"quantitative","title":"Time (min)","scale":{"domain":[0,10],"nice":false},"axis":{"title":"Time (min)","values":[0,1,2,3,4,5,6,7,8,9,10],"tickCount":30,"format":"d","labelExpr":"datum.value % 2 === 0 ? datum.label : ''","offset":3,"tickSize":4,"labelPadding":2,"titlePadding":1,"labelFlush":false,"labelOverlap":false}},"x2":{"field":"t1"},
      "y":{"field":"lo","type":"quantitative","title":"Freezing (%)","scale":{"domain":[0,40],"nice":false},"axis":{"title":"Freezing (%)","values":[0,10,20,30,40],"tickCount":30,"format":"d","labelExpr":"datum.value % 20 === 0 ? datum.label : ''","offset":4,"tickSize":5,"labelPadding":2,"titlePadding":3,"labelOverlap":false}},"y2":{"field":"hi"}}},
    {"data":{"name":"lB"},"mark":{"type":"errorband","opacity":0.85},"encoding":{"x":{"field":"t","type":"quantitative","title":"Time (min)"},"y":{"field":"m","type":"quantitative","title":"Freezing (%)"},"yError":{"field":"e"},"fill":{"field":"g","type":"nominal","scale":{"domain":["CLP","SHAM"],"range":["#b3dfac","#888888"]},"legend":null}}},
    {"data":{"name":"lB"},"mark":{"type":"line","strokeWidth":1.5},"encoding":{"x":{"field":"t","type":"quantitative","title":"Time (min)"},"y":{"field":"m","type":"quantitative","title":"Freezing (%)"},"color":{"field":"g","type":"nominal","scale":{"domain":["SHAM","CLP"],"range":["#111111","#1aa64a"]},"legend":null}}},
    {"data":{"values":[{"lab":"TONE TEST"}]},"mark":{"type":"text","align":"left","baseline":"middle","fontWeight":"bold","fontSize":10},"encoding":{"x":{"datum":0.36,"type":"quantitative"},"y":{"datum":46.7,"type":"quantitative"},"text":{"field":"lab"}}}
   ]},
  {"width":106,"height":101,
   "title":{"text":["Freezing during","tone presentation"],"fontSize":10,"fontWeight":"normal","offset":0,"lineHeight":11},
   "layer":[
    {"data":{"name":"kB"},"mark":{"type":"line","color":"#a8a8a8","strokeWidth":1.2,"xOffset":-11},
     "encoding":{"x":{"field":"g","type":"nominal","sort":null,"scale":{"type":"band","domain":["SHAM","CLP"],"range":[3,115],"paddingInner":0,"paddingOuter":0},"axis":{"title":null,"ticks":false,"labelAngle":0,"offset":5,"labelPadding":8}},
      "y":{"field":"v","type":"quantitative","scale":{"domain":[0,80],"nice":false},"axis":{"title":"Freezing (%)","values":[0,20,40,60,80],"tickCount":30,"format":"d","labelExpr":"datum.value % 40 === 0 ? datum.label : ''","tickSize":4,"labelPadding":1,"titlePadding":2,"labelOverlap":false}},
      "order":{"field":"o","type":"quantitative"}}},
    {"data":{"values":[{"g":"SHAM","lab":"ns","v":70.5}]},"mark":{"type":"text","fontStyle":"italic","fontSize":10,"dx":17,"baseline":"middle"},"encoding":{"x":{"field":"g","type":"nominal","scale":{"type":"band"}},"y":{"field":"v","type":"quantitative"},"text":{"field":"lab"}}},
    {"data":{"name":"bB"},"mark":{"type":"rule","strokeWidth":1.3,"xOffset":-11},"encoding":{"x":{"field":"g","type":"nominal","scale":{"type":"band"}},"y":{"field":"mn","type":"quantitative"},"y2":{"field":"mx"},"color":{"field":"g","type":"nominal","scale":{"domain":["SHAM","CLP"],"range":["#333333","#3aa87a"]},"legend":null}}},
    {"data":{"name":"bB"},"mark":{"type":"tick","size":14,"thickness":1.3,"xOffset":-11},"encoding":{"x":{"field":"g","type":"nominal","scale":{"type":"band"}},"y":{"field":"mn","type":"quantitative"},"color":{"field":"g","type":"nominal","legend":null}}},
    {"data":{"name":"bB"},"mark":{"type":"tick","size":14,"thickness":1.3,"xOffset":-11},"encoding":{"x":{"field":"g","type":"nominal","scale":{"type":"band"}},"y":{"field":"mx","type":"quantitative"},"color":{"field":"g","type":"nominal","legend":null}}},
    {"data":{"name":"bB"},"mark":{"type":"bar","width":14,"filled":false,"fill":"#ffffff","strokeWidth":1.3,"xOffset":-11},"encoding":{"x":{"field":"g","type":"nominal","scale":{"type":"band"}},"y":{"field":"q1","type":"quantitative"},"y2":{"field":"q3"},"color":{"field":"g","type":"nominal","legend":null}}},
    {"data":{"name":"bB"},"mark":{"type":"tick","size":14,"thickness":1.3,"xOffset":-11},"encoding":{"x":{"field":"g","type":"nominal","scale":{"type":"band"}},"y":{"field":"md","type":"quantitative"},"color":{"field":"g","type":"nominal","legend":null}}},
    {"data":{"name":"bB"},"mark":{"type":"point","shape":"square","size":14,"filled":false,"strokeWidth":1.2,"xOffset":-11},"encoding":{"x":{"field":"g","type":"nominal","scale":{"type":"band"}},"y":{"field":"mean","type":"quantitative"},"color":{"field":"g","type":"nominal","legend":null}}},
    {"data":{"name":"dB"},"mark":{"type":"circle","size":10,"opacity":1},"encoding":{"x":{"field":"g","type":"nominal","scale":{"type":"band"}},"xOffset":{"field":"j","type":"quantitative","scale":{"domain":[0,1],"range":[27,50]}},"y":{"field":"v","type":"quantitative"},"fill":{"field":"g","type":"nominal","scale":{"domain":["SHAM","CLP"],"range":["#111111","#2b7a5c"]},"legend":null}}}
   ]}
 ]},
{"title":{"text":"C","anchor":"start","fontSize":18,"fontWeight":"bold","offset":-1,"dx":-6},
 "spacing":16,
 "resolve":{"scale":{"color":"independent","stroke":"independent","fill":"independent"}},
 "hconcat":[
  {"width":275,"height":114,
   "layer":[
    {"data":{"name":"tC"},"mark":{"type":"rect","color":"#e2e2e2"},
     "encoding":{"x":{"field":"t0","type":"quantitative","title":"Time (min)","scale":{"domain":[0,10],"nice":false},"axis":{"title":"Time (min)","values":[0,1,2,3,4,5,6,7,8,9,10],"tickCount":30,"format":"d","labelExpr":"datum.value % 2 === 0 ? datum.label : ''","offset":3,"tickSize":4,"labelPadding":2,"titlePadding":-3,"labelFlush":false,"labelOverlap":false}},"x2":{"field":"t1"},
      "y":{"field":"lo","type":"quantitative","title":"Freezing (%)","scale":{"domain":[0,60],"nice":false},"axis":{"title":"Freezing (%)","values":[0,10,20,30,40,50,60],"tickCount":30,"format":"d","labelExpr":"datum.value % 20 === 0 ? datum.label : ''","offset":4,"tickSize":5,"labelPadding":2,"titlePadding":3,"labelOverlap":false}},"y2":{"field":"hi"}}},
    {"data":{"name":"lC"},"mark":{"type":"errorband","opacity":0.85},"encoding":{"x":{"field":"t","type":"quantitative","title":"Time (min)"},"y":{"field":"m","type":"quantitative","title":"Freezing (%)"},"yError":{"field":"e"},"fill":{"field":"g","type":"nominal","scale":{"domain":["CLP","SHAM"],"range":["#b3dfac","#888888"]},"legend":null}}},
    {"data":{"name":"lC"},"mark":{"type":"line","strokeWidth":1.5},"encoding":{"x":{"field":"t","type":"quantitative","title":"Time (min)"},"y":{"field":"m","type":"quantitative","title":"Freezing (%)"},"color":{"field":"g","type":"nominal","scale":{"domain":["SHAM","CLP"],"range":["#111111","#1aa64a"]},"legend":null}}},
    {"data":{"values":[{"lab":"CONTEXT TEST"}]},"mark":{"type":"text","align":"left","baseline":"middle","fontWeight":"bold","fontSize":10},"encoding":{"x":{"datum":0.36,"type":"quantitative"},"y":{"datum":62.1,"type":"quantitative"},"text":{"field":"lab"}}}
   ]},
  {"width":106,"height":114,
   "title":{"text":"Freezing during last 5 min","fontSize":10,"fontWeight":"normal","offset":0},
   "layer":[
    {"data":{"name":"kC"},"mark":{"type":"line","color":"#a8a8a8","strokeWidth":1.2,"xOffset":-11},
     "encoding":{"x":{"field":"g","type":"nominal","sort":null,"scale":{"type":"band","domain":["SHAM","CLP"],"range":[3,115],"paddingInner":0,"paddingOuter":0},"axis":{"title":null,"ticks":false,"labelAngle":0,"offset":5,"labelPadding":8}},
      "y":{"field":"v","type":"quantitative","scale":{"domain":[0,112.9],"nice":false},"axis":{"title":"Freezing (%)","values":[0,25,50,75,100],"tickCount":30,"format":"d","labelExpr":"datum.value % 50 === 0 ? datum.label : ''","tickSize":4,"labelPadding":1,"titlePadding":2,"labelOverlap":false,"domainDash":[101,400]}},
      "order":{"field":"o","type":"quantitative"}}},
    {"data":{"values":[{"g":"SHAM","lab":"**","v":95}]},"mark":{"type":"text","fontSize":17,"dx":17,"baseline":"middle"},"encoding":{"x":{"field":"g","type":"nominal","scale":{"type":"band"}},"y":{"field":"v","type":"quantitative"},"text":{"field":"lab"}}},
    {"data":{"name":"bC"},"mark":{"type":"rule","strokeWidth":1.3,"xOffset":-11},"encoding":{"x":{"field":"g","type":"nominal","scale":{"type":"band"}},"y":{"field":"mn","type":"quantitative"},"y2":{"field":"mx"},"color":{"field":"g","type":"nominal","scale":{"domain":["SHAM","CLP"],"range":["#333333","#3aa87a"]},"legend":null}}},
    {"data":{"name":"bC"},"mark":{"type":"tick","size":14,"thickness":1.3,"xOffset":-11},"encoding":{"x":{"field":"g","type":"nominal","scale":{"type":"band"}},"y":{"field":"mn","type":"quantitative"},"color":{"field":"g","type":"nominal","legend":null}}},
    {"data":{"name":"bC"},"mark":{"type":"tick","size":14,"thickness":1.3,"xOffset":-11},"encoding":{"x":{"field":"g","type":"nominal","scale":{"type":"band"}},"y":{"field":"mx","type":"quantitative"},"color":{"field":"g","type":"nominal","legend":null}}},
    {"data":{"name":"bC"},"mark":{"type":"bar","width":14,"filled":false,"fill":"#ffffff","strokeWidth":1.3,"xOffset":-11},"encoding":{"x":{"field":"g","type":"nominal","scale":{"type":"band"}},"y":{"field":"q1","type":"quantitative"},"y2":{"field":"q3"},"color":{"field":"g","type":"nominal","legend":null}}},
    {"data":{"name":"bC"},"mark":{"type":"tick","size":14,"thickness":1.3,"xOffset":-11},"encoding":{"x":{"field":"g","type":"nominal","scale":{"type":"band"}},"y":{"field":"md","type":"quantitative"},"color":{"field":"g","type":"nominal","legend":null}}},
    {"data":{"name":"bC"},"mark":{"type":"point","shape":"square","size":14,"filled":false,"strokeWidth":1.2,"xOffset":-11},"encoding":{"x":{"field":"g","type":"nominal","scale":{"type":"band"}},"y":{"field":"mean","type":"quantitative"},"color":{"field":"g","type":"nominal","legend":null}}},
    {"data":{"name":"dC"},"mark":{"type":"circle","size":10,"opacity":1},"encoding":{"x":{"field":"g","type":"nominal","scale":{"type":"band"}},"xOffset":{"field":"j","type":"quantitative","scale":{"domain":[0,1],"range":[27,50]}},"y":{"field":"v","type":"quantitative"},"fill":{"field":"g","type":"nominal","scale":{"domain":["SHAM","CLP"],"range":["#111111","#2b7a5c"]},"legend":null}}}
   ]}
 ]}
]
}
